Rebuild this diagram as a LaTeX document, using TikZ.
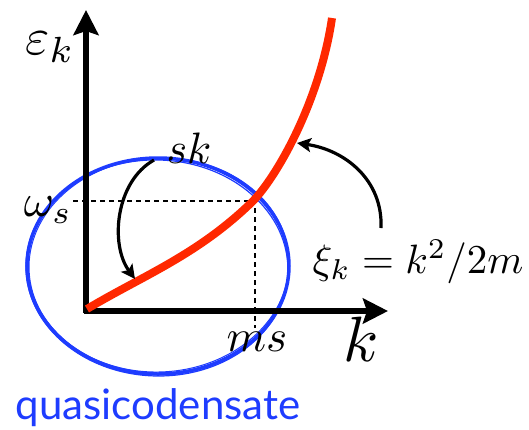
\documentclass[tikz,border=0pt]{standalone}
\usepackage{fontspec}
\newfontfamily\qfont{Lato}
\usetikzlibrary{arrows.meta}
\definecolor{cred}{RGB}{255,40,0}
\definecolor{cblue}{RGB}{30,60,255}
\begin{document}
\begin{tikzpicture}[x=1pt,y=-1pt,
  axis/.style={line width=5.5pt,-{Stealth[length=25pt,width=25pt,inset=4pt]}},
  guide/.style={line width=2.8pt,dash pattern=on 5pt off 4pt},
  curvearrow/.style={line width=3.2pt,-{Stealth[length=14pt,width=14pt,inset=3pt]}},
  lbl/.style={inner sep=0pt,scale=4.4}]
\useasboundingbox (0,0) rectangle (529,429);
\coordinate (O) at (88,311);
\coordinate (ytip) at (86,10);
\coordinate (xtip) at (388,311);
\coordinate (P) at (253,201);
\coordinate (wl) at (73,201);
\coordinate (mb) at (255,328);
% blue ellipse
\draw[cblue,line width=3.5pt] (158,266) ellipse [x radius=131, y radius=108];
\draw[cblue,line width=1pt,rotate around={3:(158,266)}] (159,265) ellipse [x radius=130, y radius=107];
\draw[cblue,line width=1.2pt,rotate around={-2:(158,266)}] (157,268) ellipse [x radius=131, y radius=108];
% dashed guides
\draw[guide] (wl) -- (255,201) -- (mb);
% axes
\draw[axis] (86,313) -- (ytip);
\draw[axis] (84,311) -- (xtip);
% red curve
\draw[cred,line width=8pt] (87,309) .. controls (142,276) and (198,255) .. (P)
  .. controls (278,175) and (320,100) .. (332,18);
% labels
\node[lbl,scale=5.2/4.4] (ek) at (50,47) {$\varepsilon_k$};
\node[lbl] (sk) at (189,148) {$sk$};
\node[lbl,scale=4.6/4.4] (ws) at (48,210) {$\omega_s$};
\node[lbl,scale=4.5/4.4] (ms) at (257,342) {$ms$};
\node[lbl,scale=6.4/4.4] (kk) at (361,339) {$k$};
\node[lbl,scale=4.1/4.4] (xi) at (418,262) {$\xi_k = k^2/2m$};
\node[inner sep=0pt,text=cblue,font=\qfont,scale=4.2] (q) at (158,408) {quasicodensate};
% curved arrows
\coordinate (a1) at (154,160);
\coordinate (a1e) at (135,279);
\draw[curvearrow] (a1) .. controls (115,182) and (110,245) .. (a1e);
\coordinate (a2) at (381,228);
\coordinate (a2e) at (297,143);
\draw[curvearrow] (a2) .. controls (383,180) and (345,150) .. (a2e);
\end{tikzpicture}
\end{document}
